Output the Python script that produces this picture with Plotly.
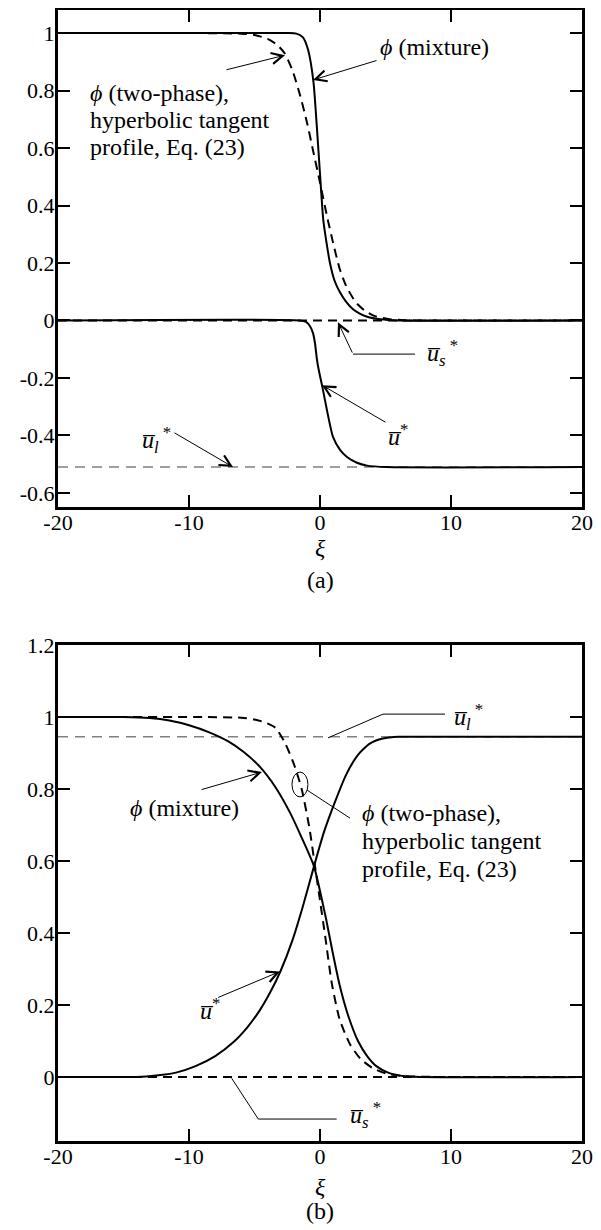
import plotly.graph_objects as go

# ---- data ----
xi_ends = [-20, 20]

# (a)
xi_a_mix = [-20, -2.5, -1.8, -1.3, -0.9, -0.5, -0.25, 0, 0.25, 0.5, 0.76, 1.1, 1.5, 2.0, 2.5, 3.0, 3.6, 4.6, 6.0, 20]
phi_a_mix = [1, 1, 0.998, 0.985, 0.94, 0.83, 0.68, 0.51, 0.35, 0.27, 0.2, 0.14, 0.1, 0.065, 0.04, 0.025, 0.013, 0.004, 0, 0]
xi_a_tanh = [-20, -6, -5, -4, -3.3, -2.7, -2.1, -1.5, -1.0, -0.5, 0, 0.5, 1.0, 1.5, 2.0, 2.7, 3.4, 4.2, 5.2, 6.5, 20]
phi_a_tanh = [1, 0.998, 0.993, 0.98, 0.96, 0.93, 0.87, 0.78, 0.69, 0.585, 0.48, 0.37, 0.27, 0.18, 0.12, 0.065, 0.035, 0.015, 0.005, 0.001, 0]
xi_a_u = [-20, -1.55, -1.07, -0.76, -0.53, -0.38, -0.23, -0.08, 0.15, 0.38, 0.61, 0.99, 1.53, 2.06, 2.82, 3.59, 5.1, 20]
u_a = [0, 0, -0.005, -0.02, -0.045, -0.08, -0.137, -0.176, -0.225, -0.277, -0.33, -0.405, -0.45, -0.475, -0.495, -0.505, -0.51, -0.51]
ul_a = [-0.51, -0.51]
us_a = [0, 0]

# (b)
xi_b_mix = [-20, -15, -13, -11.5, -10, -8.5, -7, -5.8, -4.6, -3.4, -2.3, -1.4, -0.46, 0.4, 1.0, 1.5, 2.2, 2.9, 3.6, 4.3, 5.2, 6.5, 20]
phi_b_mix = [1, 1, 0.997, 0.99, 0.977, 0.958, 0.932, 0.902, 0.862, 0.805, 0.735, 0.665, 0.585, 0.45, 0.34, 0.255, 0.165, 0.1, 0.058, 0.03, 0.012, 0.002, 0]
xi_b_tanh = [-20, -6, -5, -4.2, -3.4, -2.7, -2.0, -1.4, -0.8, -0.4, 0, 0.4, 0.9, 1.5, 2.3, 3.1, 4.0, 5.0, 6.5, 20]
phi_b_tanh = [1, 0.998, 0.993, 0.985, 0.97, 0.93, 0.87, 0.8, 0.69, 0.59, 0.49, 0.39, 0.26, 0.16, 0.09, 0.05, 0.025, 0.01, 0.002, 0]
xi_b_u = [-20, -14, -12.5, -11, -9.5, -8, -6.6, -5.5, -4.6, -3.8, -3.0, -2.1, -1.3, -0.46, 0.3, 1.1, 2.0, 2.9, 3.8, 4.8, 6.0, 7.5, 20]
u_b = [0, 0, 0.004, 0.012, 0.03, 0.058, 0.097, 0.14, 0.185, 0.235, 0.295, 0.38, 0.475, 0.585, 0.68, 0.76, 0.84, 0.895, 0.926, 0.94, 0.945, 0.945, 0.945]
ul_b = [0.945, 0.945]
us_b = [0, 0]

x_ticks = [-20, -10, 0, 10, 20]
x_ticktext = ['-20', '-10', '0', '10', '20']
ya_ticks = [-0.6, -0.4, -0.2, 0, 0.2, 0.4, 0.6, 0.8, 1]
ya_ticktext = ['-0.6', '-0.4', '-0.2', '0', '0.2', '0.4', '0.6', '0.8', '1']
yb_ticks = [0, 0.2, 0.4, 0.6, 0.8, 1, 1.2]
yb_ticktext = ['0', '0.2', '0.4', '0.6', '0.8', '1', '1.2']

FONT = 'Liberation Serif'
OFF = 8  # the page body margin shifts the figure by this much
W, H = 601 - OFF, 1230 - OFF
solid = dict(color='black', width=2)
dashed = dict(color='black', width=2, dash='9px,6px')
gray = dict(color='#808080', width=1.5, dash='10px,7px')

fig = go.Figure()


def add(x, y, line, xa, ya):
    fig.add_trace(go.Scatter(x=x, y=y, mode='lines', line=dict(shape='spline', smoothing=0.6, **line),
                             xaxis=xa, yaxis=ya, showlegend=False, hoverinfo='skip'))


add(xi_ends, ul_a, gray, 'x', 'y')
add(xi_ends, us_a, dashed, 'x', 'y')
add(xi_a_u, u_a, solid, 'x', 'y')
add(xi_a_mix, phi_a_mix, solid, 'x', 'y')
add(xi_a_tanh, phi_a_tanh, dashed, 'x', 'y')

add(xi_ends, ul_b, gray, 'x2', 'y2')
add(xi_ends, us_b, dashed, 'x2', 'y2')
add(xi_b_u, u_b, solid, 'x2', 'y2')
add(xi_b_mix, phi_b_mix, solid, 'x2', 'y2')
add(xi_b_tanh, phi_b_tanh, dashed, 'x2', 'y2')


def px_y(py):
    return 1 - (py - OFF) / H


dom_x = [(58 - OFF) / W, (582 - OFF) / W]
axis_common = dict(showline=True, linewidth=3, linecolor='black', mirror='ticks', ticks='inside',
                   ticklen=12, tickwidth=2, tickcolor='black', showgrid=False, zeroline=False,
                   automargin=False, tickfont=dict(family=FONT, size=22, color='black'))

fig.update_layout(
    template='none',
    width=W, height=H, margin=dict(l=0, r=0, t=0, b=0, pad=0),
    paper_bgcolor='white', plot_bgcolor='white', showlegend=False,
    xaxis=dict(domain=dom_x, anchor='y', range=[-20, 20], tickvals=x_ticks, ticktext=x_ticktext,
               ticklabelstandoff=-6, **axis_common),
    yaxis=dict(domain=[px_y(507), px_y(9.5)], anchor='x', range=[-0.649, 1.082],
               tickvals=ya_ticks, ticktext=ya_ticktext, ticklabelstandoff=-4, **axis_common),
    xaxis2=dict(domain=dom_x, anchor='y2', range=[-20, 20], tickvals=x_ticks, ticktext=x_ticktext,
                ticklabelstandoff=-6, **axis_common),
    yaxis2=dict(domain=[px_y(1141), px_y(645)], anchor='x2', range=[-0.178, 1.2],
                tickvals=yb_ticks, ticktext=yb_ticktext, ticklabelstandoff=-4, **axis_common),
)

tf = dict(family=FONT, size=24, color='black')


def label(text, x, y, xr, yr, xanchor='left'):
    fig.add_annotation(text=text, x=x, y=y, xref=xr, yref=yr, showarrow=False,
                       xanchor=xanchor, yanchor='middle', font=tf)


def arrow(x0, y0, x1, y1, xr, yr, head=5):
    fig.add_annotation(text='', x=x1, y=y1, ax=x0, ay=y0, xref=xr, yref=yr, axref=xr, ayref=yr,
                       showarrow=True, arrowhead=head, arrowsize=2.2, arrowwidth=1, arrowcolor='black',
                       standoff=0, startstandoff=0)


def leader(pts, xr, yr):
    path = 'M' + ' L'.join(f'{px},{py}' for px, py in pts)
    fig.add_shape(type='path', path=path, xref=xr, yref=yr, line=dict(color='black', width=1))


PHI = '<i>\u03d5</i>'
UB = '<i>u\u0305</i>'

# panel (a)
label(PHI + ' (two-phase),', -17.7, 0.791, 'x', 'y')
label('hyperbolic tangent', -17.7, 0.697, 'x', 'y')
label('profile, Eq. (23)', -17.7, 0.603, 'x', 'y')
arrow(-7.25, 0.871, -2.67, 0.923, 'x', 'y')
label(PHI + ' (mixture)', 4.43, 0.951, 'x', 'y')
arrow(4.43, 0.906, -0.53, 0.837, 'x', 'y')
label(UB + '<sub><i>s</i></sub><sup> *</sup>', 8.0, -0.113, 'x', 'y')
leader([(7.25, -0.117), (2.52, -0.117)], 'x', 'y')
arrow(2.52, -0.117, 1.37, -0.006, 'x', 'y')
label(UB + '<sup>*</sup>', 5.05, -0.40, 'x', 'y')
arrow(5.11, -0.357, 0.15, -0.225, 'x', 'y')
label(UB + '<sub><i>l</i></sub><sup> *</sup>', -13.74, -0.415, 'x', 'y')
arrow(-11.22, -0.388, -6.64, -0.51, 'x', 'y')

# panel (b)
label(UB + '<sub><i>l</i></sub><sup> *</sup>', 10.08, 1.0, 'x2', 'y2')
leader([(9.54, 1.008), (4.81, 1.008), (0.61, 0.942)], 'x2', 'y2')
fig.add_shape(type='circle', xref='x2', yref='y2', x0=-2.14, x1=-0.92, y0=0.778, y1=0.847,
              line=dict(color='black', width=1))
leader([(-0.99, 0.797), (2.29, 0.719)], 'x2', 'y2')
label(PHI + ' (two-phase),', 3.05, 0.733, 'x2', 'y2')
label('hyperbolic tangent', 3.05, 0.655, 'x2', 'y2')
label('profile, Eq. (23)', 3.05, 0.577, 'x2', 'y2')
label(PHI + ' (mixture)', -14.66, 0.747, 'x2', 'y2')
arrow(-9.16, 0.797, -4.43, 0.847, 'x2', 'y2')
label(UB + '<sup>*</sup>', -9.31, 0.19, 'x2', 'y2')
arrow(-7.89, 0.219, -3.05, 0.293, 'x2', 'y2')
label(UB + '<sub><i>s</i></sub><sup> *</sup>', 2.14, -0.105, 'x2', 'y2')
leader([(1.27, -0.117), (-4.71, -0.117), (-6.74, -0.004)], 'x2', 'y2')

# axis titles and panel tags
for yy, txt in [(548, '<i>\u03be</i>'), (580, '(a)'), (1187, '<i>\u03be</i>'), (1211, '(b)')]:
    fig.add_annotation(text=txt, x=0, y=px_y(yy), xref='x', yref='paper', showarrow=False,
                       xanchor='center', yanchor='middle', font=tf)

fig.write_html('out.html')
